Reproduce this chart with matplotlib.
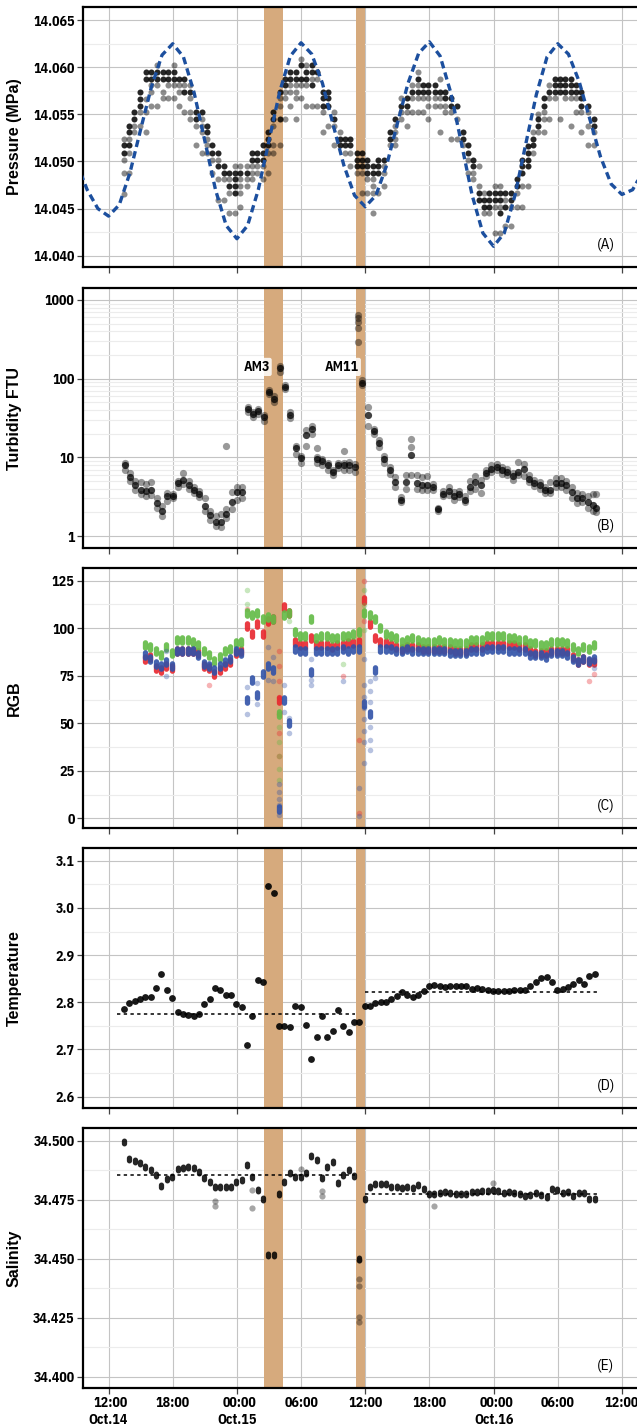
import numpy as np
import pandas as pd
import matplotlib
matplotlib.use("Agg")
import matplotlib.pyplot as plt
import matplotlib.dates as mdates
from matplotlib import font_manager
from matplotlib.path import Path
from matplotlib.ticker import FixedLocator, MultipleLocator, FuncFormatter, NullFormatter

# time axis: hours after 12:00 Oct.14
T0 = pd.Timestamp("2016-10-14 12:00")

# tide prediction (hourly)
tide_t = list(range(-3, 51))
tide_v = [14.0499, 14.0470, 14.0450,
          14.0442, 14.0454, 14.0488, 14.0534, 14.0579, 14.0613, 14.0625,
          14.0611, 14.0573, 14.0522, 14.0470, 14.0432, 14.0418,
          14.0432, 14.0470, 14.0522, 14.0574, 14.0612, 14.0626,
          14.0614, 14.0583, 14.0539, 14.0496, 14.0464, 14.0452,
          14.0464, 14.0496, 14.0540, 14.0583, 14.0615, 14.0627,
          14.0612, 14.0573, 14.0519, 14.0464, 14.0424, 14.0410,
          14.0424, 14.0464, 14.0518, 14.0571, 14.0611, 14.0625,
          14.0614, 14.0585, 14.0545, 14.0505, 14.0476, 14.0465,
          14.0470, 14.0490]

# measured pressure, per sampling time: dense (dark) and sparse (grey) values
pres_t = [1.4, 1.9, 2.4, 2.95, 3.5, 4.0, 4.5, 5.05, 5.55, 6.1, 6.6, 7.1, 7.6, 8.2, 8.7,
          9.2, 9.7, 10.2, 10.8, 11.3, 11.8, 12.3, 12.9, 13.4, 13.9, 14.4, 14.9, 15.4,
          16.0, 16.5, 17.0, 17.5, 17.95, 18.5, 19.0, 19.5, 20.05, 20.55, 21.1, 21.6,
          22.1, 22.6, 23.2, 23.7, 24.2, 24.7, 25.2, 25.8, 26.3, 26.8, 27.3, 27.9, 28.4,
          28.9, 29.4, 29.9, 30.5, 31.0, 31.5, 32.0, 32.6, 33.1, 33.6, 34.1, 34.6, 35.1,
          35.6, 36.1, 36.6, 37.1, 37.6, 38.2, 38.7, 39.2, 39.7, 40.2, 40.7, 41.2, 41.7,
          42.2, 42.7, 43.2, 43.7, 44.2, 44.8, 45.4]
pres_core = [
    [14.0517, 14.0509], [14.0538, 14.0531, 14.0517], [14.0553, 14.0545],
    [14.0574, 14.0566, 14.0559], [14.0595, 14.0588], [14.0595, 14.0588],
    [14.0595, 14.0588], [14.0595, 14.0588], [14.0595, 14.0588], [14.0595, 14.0588],
    [14.0588], [14.0588, 14.0574], [14.0574], [14.0553, 14.0545], [14.0553],
    [14.0538, 14.0531], [14.0517, 14.0509], [14.0509, 14.0495], [14.0495, 14.0488],
    [14.0488, 14.0474], [14.0488, 14.0481, 14.0474, 14.0467], [14.0488], [14.0488],
    [14.0509, 14.0502], [14.0509, 14.0502], [14.0517, 14.0509, 14.0502],
    [14.0531, 14.0524, 14.0517], [14.0553, 14.0545], [14.0574, 14.0545],
    [14.0588, 14.0581], [14.0595, 14.0588], [14.0595, 14.0588], [14.0602, 14.0588],
    [14.0595, 14.0588], [14.0602, 14.0595, 14.0581], [14.0595],
    [14.0574, 14.0567, 14.0559], [14.0574, 14.0567, 14.0559], [14.0545],
    [14.0524, 14.0517], [14.0524, 14.0517], [14.0524, 14.0517],
    [14.0509, 14.0502, 14.0495], [14.0509, 14.0502, 14.0495],
    [14.0502, 14.0495, 14.0488], [14.0495, 14.0488], [14.0502, 14.0495, 14.0488],
    [14.0502], [14.0531, 14.0524], [14.0545], [14.0559], [14.0567, 14.0559],
    [14.0574], [14.0588, 14.0574], [14.0581, 14.0574], [14.0581, 14.0574],
    [14.0581, 14.0574], [14.0574], [14.0574, 14.0567], [14.0567, 14.0559], [14.0559],
    [14.0531, 14.0524], [14.0517, 14.0509], [14.0502, 14.0495], [14.0467, 14.0459],
    [14.0459, 14.0452], [14.0467, 14.0459, 14.0452], [14.0467, 14.0459],
    [14.0467, 14.0459, 14.0445], [14.0467, 14.0452], [14.0467, 14.0459],
    [14.0481, 14.0474], [14.0502, 14.0495, 14.0488], [14.0516, 14.0509, 14.0502, 14.0495],
    [14.0524, 14.0517], [14.0545, 14.0538], [14.0567, 14.0559], [14.0574],
    [14.0588, 14.0581, 14.0574], [14.0588, 14.0581, 14.0574], [14.0588, 14.0581, 14.0574],
    [14.0588, 14.0581, 14.0574], [14.0581, 14.0574], [14.0574, 14.0567, 14.0559],
    [14.0559], [14.0545, 14.0538]]
pres_thin = [
    [14.0524, 14.0502, 14.0488, 14.0466], [14.0524, 14.0509, 14.0488], [14.0538, 14.0531],
    [14.0553, 14.0538], [14.0566, 14.0553, 14.0531], [14.0581, 14.0574, 14.0559],
    [14.0602, 14.0581, 14.0559], [14.0574, 14.0567], [14.0581, 14.0567],
    [14.0602, 14.0581, 14.0567], [14.0581, 14.0574, 14.0559], [14.0581, 14.0553],
    [14.0581, 14.0567, 14.0553, 14.0545], [14.0538, 14.0517],
    [14.0545, 14.0538, 14.0531, 14.0509], [14.0524, 14.0517, 14.0509],
    [14.0502, 14.0488], [14.0502, 14.0481, 14.0459], [14.0481, 14.0459],
    [14.0481, 14.0467, 14.0445], [14.0495, 14.0445],
    [14.0495, 14.0481, 14.0474, 14.0467, 14.0452], [14.0495, 14.0481, 14.0474],
    [14.0495, 14.0488, 14.0481], [14.0495, 14.0488], [14.0495, 14.0481],
    [14.0509, 14.0488], [14.0538, 14.0517, 14.0509], [14.0567, 14.0559, 14.0517],
    [14.0574, 14.0567, 14.0545], [14.0581, 14.0574, 14.0559],
    [14.0581, 14.0574, 14.0567, 14.0545], [14.0609, 14.0581, 14.0567],
    [14.0602, 14.0581, 14.0559], [14.0588, 14.0559], [14.0588, 14.0559],
    [14.0553, 14.0531], [14.0538], [14.0553, 14.0538, 14.0517], [14.0531], [14.0509],
    [14.0509, 14.0495], [14.0488], [14.0488, 14.0467], [14.0481, 14.0467],
    [14.0481, 14.0474, 14.0467, 14.0445], [14.0467], [14.0495, 14.0488, 14.0474],
    [14.0517], [14.0538, 14.0531, 14.0524, 14.0517], [14.0567, 14.0553, 14.0545],
    [14.0553, 14.0538], [14.0581, 14.0567, 14.0553], [14.0595, 14.0581, 14.0567, 14.0553],
    [14.0567, 14.0553], [14.0567, 14.0559, 14.0545], [14.0567, 14.0559],
    [14.0588, 14.0567, 14.0559, 14.0531], [14.0559, 14.0553], [14.0553, 14.0524],
    [14.0545, 14.0524], [14.0517], [14.0502, 14.0488], [14.0488, 14.0481],
    [14.0474, 14.0495], [14.0467, 14.0445], [14.0445], [14.0474, 14.0452, 14.0424],
    [14.0474, 14.0452, 14.0424], [14.0459, 14.0431], [14.0452, 14.0431],
    [14.0467, 14.0452], [14.0474, 14.0452], [14.0474], [14.0531, 14.0509],
    [14.0550, 14.0531], [14.0553, 14.0545, 14.0531], [14.0581, 14.0567, 14.0545],
    [14.0567], [14.0545], [14.0567], [14.0567, 14.0538], [14.0567, 14.0553],
    [14.0553, 14.0531], [14.0553, 14.0538, 14.0517], [14.0531, 14.0517]]

# turbidity (FTU): typical value per sample with its low / high scatter
turb_t = [1.5, 2.0, 2.5, 3.0, 3.5, 4.0, 4.5, 5.0, 5.5, 6.0, 6.5, 7.0, 7.5, 8.0, 8.5, 9.0,
          9.5, 10.0, 10.5, 11.0, 11.5, 12.0, 12.5, 13.0, 13.5, 14.0, 14.5, 15.0, 15.5,
          16.0, 16.5, 17.0, 17.5, 18.0, 18.5, 19.0, 19.5, 20.0, 20.5, 21.0, 21.5, 22.0,
          22.5, 23.0, 23.7, 24.3, 24.8, 25.3, 25.8, 26.3, 26.8, 27.3, 27.8, 28.3, 28.8,
          29.3, 29.8, 30.3, 30.8, 31.3, 31.8, 32.3, 32.8, 33.3, 33.8, 34.3, 34.8, 35.3,
          35.8, 36.3, 36.8, 37.3, 37.8, 38.3, 38.8, 39.3, 39.8, 40.3, 40.8, 41.3, 41.8,
          42.3, 42.8, 43.3, 43.8, 44.3, 44.8, 45.3, 45.6]
turb_mid = [7.9, 5.7, 4.4, 3.9, 3.7, 3.9, 2.6, 2.1, 3.2, 3.2, 4.7, 5.2, 4.4, 3.9, 3.4, 2.4,
            1.85, 1.5, 1.5, 1.9, 2.7, 3.6, 3.6, 41, 35.5, 39, 32.8, 68, 55, 135, 79, 35,
            13, 9.7, 19, 23, 9.5, 9.0, 8.0, 6.6, 8.0, 8.0, 8.0, 7.6, 87, 35, 21.6, 15, 9.5,
            6.9, 4.9, 2.9, 4.9, 10.7, 4.7, 4.4, 4.4, 4.2, 2.2, 3.4, 3.7, 3.2, 3.4, 2.9,
            4.2, 4.9, 4.4, 6.3, 7.2, 7.6, 6.9, 6.6, 5.8, 6.6, 7.2, 5.3, 4.7, 4.4, 3.8,
            3.8, 4.7, 4.7, 4.4, 3.6, 3.0, 3.0, 2.7, 2.5, 2.3]
turb_lo = [7.0, 5.0, 3.8, 3.4, 3.2, 3.3, 2.3, 1.8, 2.8, 3.0, 4.2, 4.6, 4.0, 3.5, 3.1, 2.1,
           1.6, 1.35, 1.3, 1.7, 2.2, 2.9, 3.0, 38, 33, 36, 29, 63, 50, 120, 74, 32,
           11, 8.5, 14, 20, 8.5, 8.0, 7.0, 6.0, 7.3, 7.0, 7.0, 6.6, 82, 25, 20, 13.5, 8.5,
           6.2, 4.2, 2.7, 4.0, 6.0, 4.0, 3.8, 3.8, 3.8, 2.1, 3.2, 3.3, 2.9, 3.1, 2.7,
           3.7, 4.0, 3.5, 5.8, 6.5, 7.0, 6.2, 6.0, 5.2, 6.0, 5.8, 4.8, 4.3, 4.0, 3.5,
           3.5, 4.2, 4.2, 3.8, 3.0, 2.6, 2.7, 2.3, 2.1, 2.0]
turb_hi = [8.5, 6.3, 5.0, 4.8, 4.6, 4.8, 3.0, 2.4, 3.5, 3.4, 5.0, 6.3, 5.0, 4.2, 3.7, 3.0,
           2.1, 1.8, 1.9, 2.2, 3.6, 4.2, 4.2, 43, 38, 41, 35, 72, 60, 145, 84, 38,
           14, 10.5, 22, 25, 10, 9.5, 8.5, 7.0, 8.5, 8.5, 8.8, 8.2, 95, 43, 23, 16.5, 10.5,
           7.5, 5.6, 3.1, 6.0, 17, 6.0, 5.6, 5.8, 4.6, 2.3, 3.7, 4.2, 3.6, 3.7, 3.2,
           5.0, 5.8, 5.2, 7.0, 8.0, 8.2, 7.5, 7.2, 6.3, 8.8, 8.3, 6.0, 5.2, 4.8, 4.2,
           4.8, 5.4, 5.5, 5.0, 4.2, 3.5, 3.4, 3.2, 3.4, 3.4]
turb_out_t = [11.0, 23.3, 23.3, 23.3, 23.3, 23.3, 28.3, 19.5, 22.0]
turb_out_v = [14, 643, 590, 530, 440, 294, 13.5, 13, 12]

# camera colour (RGB)
rgb_t = [3.4, 3.9, 4.4, 4.9, 5.4, 5.9, 6.4, 6.9, 7.4, 7.9, 8.4, 8.9, 9.4, 9.9, 10.4,
         10.9, 11.4, 11.9, 12.4, 12.9, 13.4, 13.9, 14.4, 14.9, 15.4, 15.9, 16.4, 16.9,
         17.4, 17.9, 18.4, 18.9, 19.4, 19.9, 20.4, 20.9, 21.4, 21.9, 22.4, 22.9, 23.4,
         23.9, 24.4, 24.9, 25.4, 25.9, 26.4, 26.9, 27.4, 27.9, 28.4, 28.9, 29.4, 29.9,
         30.4, 30.9, 31.4, 31.9, 32.4, 32.9, 33.4, 33.9, 34.4, 34.9, 35.4, 35.9, 36.4,
         36.9, 37.4, 37.9, 38.4, 38.9, 39.4, 39.9, 40.4, 40.9, 41.4, 41.9, 42.4, 42.9,
         43.4, 43.9, 44.4, 44.9, 45.4]
rgb_g = [91, 90, 88, 86, 90, 87, 94, 94, 94, 93, 91, 88, 86, 83, 85, 88, 89, 92, 93,
         108, 107, 108, 105, 106, 105, 55, 107, 108, 98, 96, 96, 105, 95, 96, 96, 95, 95,
         96, 96, 97, 98, 108, 107, 105, 100, 97, 96, 95, 93, 94, 95, 94, 93, 93, 93, 94,
         93, 93, 92, 92, 92, 94, 94, 94, 96, 96, 96, 96, 95, 95, 94, 94, 92, 92, 91, 91,
         93, 93, 93, 92, 90, 88, 90, 89, 91]
rgb_r = [84, 85, 79, 78, 80, 79, 88, 88, 88, 88, 87, 80, 79, 76, 78, 80, 82, 87, 88,
         101, 97, 102, 97, 104, 105, 62, 111, 108, 93, 91, 91, 95, 91, 91, 91, 90, 91,
         91, 92, 92, 93, 115, 102, 95, 93, 92, 91, 90, 89, 90, 90, 90, 89, 89, 89, 89,
         89, 89, 88, 88, 88, 90, 90, 90, 91, 91, 91, 91, 91, 91, 90, 90, 88, 87, 87, 87,
         88, 88, 88, 88, 85, 82, 84, 82, 82]
rgb_b = [86, 84, 81, 80, 82, 80, 88, 88, 88, 88, 86, 81, 80, 78, 80, 82, 84, 88, 87,
         62, 73, 65, 76, 80, 78, 5, 62, 50, 89, 88, 88, 77, 88, 88, 88, 88, 88, 89, 88,
         89, 89, 60, 55, 78, 89, 89, 89, 88, 88, 89, 88, 88, 88, 88, 88, 88, 88, 87, 87,
         87, 87, 88, 88, 88, 89, 89, 89, 89, 88, 88, 88, 88, 86, 86, 86, 85, 87, 87, 87,
         86, 84, 82, 84, 83, 84]
# scattered single samples around the events
rgb_gx_t = [12.9, 12.9, 15.9, 15.9, 15.9, 15.9, 15.9, 21.9, 23.9, 23.9, 23.9, 16.9]
rgb_gx_v = [120, 113, 48, 40, 33, 26, 20, 81, 120, 99, 112, 104]
rgb_rx_t = [9.4, 15.9, 15.9, 15.9, 15.9, 15.9, 15.9, 15.9, 21.9, 23.4, 23.4, 23.9,
            23.9, 44.9, 45.4, 12.9]
rgb_rx_v = [70, 88, 80, 72, 64, 55, 45, 33, 75, 41, 3, 125, 104, 72, 76, 110]
rgb_bx_t = [5.4, 5.4, 12.9, 12.9, 13.9, 13.9, 14.9, 14.9, 15.4, 15.4, 15.9, 15.9, 15.9,
            15.9, 15.9, 16.4, 16.4, 16.9, 16.9, 18.9, 18.9, 18.9, 21.9, 23.4, 23.4,
            23.9, 23.9, 23.9, 23.9, 23.9, 23.9, 23.9, 23.9, 24.4, 24.4, 24.4, 24.4,
            24.4, 24.4, 24.9, 45.4]
rgb_bx_v = [75, 88, 55, 69, 60, 71, 73, 90, 72, 85, 18, 14, 10, 7, 2, 70, 56, 45, 53,
            70, 73, 84, 72, 16, 1, 84, 70, 64, 58, 52, 46, 40, 29, 72, 67, 61, 48, 41,
            36, 74, 79]

# temperature
temp_t = [1.45, 1.95, 2.45, 2.95, 3.45, 3.95, 4.45, 4.95, 5.45, 5.95, 6.45, 6.95, 7.45,
          7.95, 8.45, 8.95, 9.45, 9.95, 10.45, 10.95, 11.45, 11.95, 12.45, 12.95, 13.45,
          13.95, 14.45, 14.95, 15.45, 15.95, 16.45, 16.95, 17.45, 17.95, 18.45, 18.95,
          19.45, 19.95, 20.45, 20.95, 21.45, 21.95, 22.45, 22.95, 23.45, 23.95, 24.45,
          24.95, 25.45, 25.95, 26.45, 26.95, 27.45, 27.95, 28.45, 28.95, 29.45, 29.95,
          30.45, 30.95, 31.45, 31.95, 32.45, 32.95, 33.45, 33.95, 34.45, 34.95, 35.45,
          35.95, 36.45, 36.95, 37.45, 37.95, 38.45, 38.95, 39.45, 39.95, 40.45, 40.95,
          41.45, 41.95, 42.45, 42.95, 43.45, 43.95, 44.45, 44.95, 45.45]
temp_v = [2.786, 2.798, 2.803, 2.808, 2.812, 2.812, 2.830, 2.861, 2.827, 2.810, 2.779,
          2.775, 2.773, 2.770, 2.775, 2.796, 2.806, 2.830, 2.826, 2.816, 2.816, 2.796,
          2.789, 2.709, 2.771, 2.847, 2.842, 3.046, 3.032, 2.750, 2.749, 2.747, 2.793,
          2.789, 2.752, 2.679, 2.726, 2.772, 2.727, 2.739, 2.784, 2.750, 2.738, 2.759,
          2.759, 2.792, 2.793, 2.798, 2.801, 2.801, 2.808, 2.813, 2.822, 2.815, 2.812,
          2.815, 2.824, 2.835, 2.836, 2.835, 2.833, 2.834, 2.834, 2.835, 2.835, 2.828,
          2.830, 2.828, 2.826, 2.824, 2.824, 2.824, 2.824, 2.826, 2.826, 2.826, 2.835,
          2.844, 2.851, 2.854, 2.844, 2.827, 2.829, 2.832, 2.839, 2.847, 2.839, 2.856,
          2.860]
temp_mean_t = [[0.8, 23.0], [24.0, 45.9]]
temp_mean_v = [2.7755, 2.8225]

# salinity
sal_t = temp_t
sal_v = [34.4996, 34.4922, 34.4914, 34.4904, 34.4890, 34.4876, 34.4855, 34.4808,
         34.4836, 34.4847, 34.4879, 34.4883, 34.4890, 34.4883, 34.4869, 34.4840,
         34.4826, 34.4805, 34.4805, 34.4805, 34.4805, 34.4826, 34.4833, 34.4897,
         34.4847, 34.4791, 34.4751, 34.4516, 34.4516, 34.4774, 34.4826, 34.4864,
         34.4847, 34.4847, 34.4864, 34.4935, 34.4918, 34.4840, 34.4887, 34.4911,
         34.4822, 34.4855, 34.4876, 34.4850, 34.4500, 34.4753, 34.4805, 34.4816,
         34.4816, 34.4815, 34.4805, 34.4805, 34.4798, 34.4805, 34.4798, 34.4812,
         34.4794, 34.4774, 34.4774, 34.4777, 34.4784, 34.4777, 34.4774, 34.4774,
         34.4774, 34.4784, 34.4784, 34.4788, 34.4788, 34.4791, 34.4788, 34.4777,
         34.4784, 34.4780, 34.4774, 34.4766, 34.4770, 34.4780, 34.4770, 34.4760,
         34.4794, 34.4791, 34.4780, 34.4784, 34.4766, 34.4780, 34.4780, 34.4751,
         34.4751]
sal_x_t = [9.95, 9.95, 13.45, 13.45, 23.45, 23.45, 23.45, 23.45, 23.45, 19.95, 19.95,
           17.95, 30.45, 35.95]
sal_x_v = [34.4745, 34.4722, 34.4790, 34.4715, 34.4494, 34.4412, 34.4384, 34.4254,
           34.4233, 34.4785, 34.4765, 34.4880, 34.4722, 34.4820]
sal_mean_t = [[0.8, 23.0], [24.0, 45.9]]
sal_mean_v = [34.4855, 34.4774]

# sampling events
events = [("AM3", 14.58, 16.31, 13.83), ("AM11", 23.14, 24.0, 21.8)]


def hrs(h):
    return mdates.date2num((T0 + pd.to_timedelta(np.asarray(h, dtype=float), unit="h")).values)


def flat(ts, groups):
    xs, ys = [], []
    for t, g in zip(ts, groups):
        xs += [t] * len(g)
        ys += list(g)
    return hrs(xs), ys


def capsule(ratio):
    a = np.linspace(0, np.pi, 12)
    c = ratio / 2 - 0.5
    top = np.column_stack([0.5 * np.cos(a), c + 0.5 * np.sin(a)])
    bot = np.column_stack([-0.5 * np.cos(a), -c - 0.5 * np.sin(a)])
    v = np.vstack([top, bot, top[:1]])
    return Path(v, closed=True)


def is_bold(w):
    if isinstance(w, str):
        return w in ("bold", "heavy", "extra bold", "black", "semibold", "demibold")
    return w >= 600


# a condensed family with a bold face, close to the narrow bold tick labels
bold_fams = {f.name for f in font_manager.fontManager.ttflist if is_bold(f.weight)}
TICK_FAM, TICK_SIZE = ["Liberation Sans", "DejaVu Sans"], 9.3
for cand, size in [("Archivo Narrow", 10.5), ("IBM Plex Sans Condensed", 10.0),
                   ("Asap Condensed", 10.0), ("Fira Sans Condensed", 10.0),
                   ("Barlow Semi Condensed", 10.0), ("Encode Sans Condensed", 10.0)]:
    if cand in bold_fams:
        TICK_FAM, TICK_SIZE = [cand, "DejaVu Sans"], size
        break
plt.rcParams["font.family"] = ["Liberation Sans", "DejaVu Sans"]

fig = plt.figure(figsize=(6.37, 14.27), dpi=100)
H = 1427.0
W = 637.0
tops = [7, 288, 568, 848, 1128]
axes = []
for tp in tops:
    ax = fig.add_axes([83 / W, 1 - (tp + 260) / H, 1.004 - 83 / W, 260 / H])
    axes.append(ax)

xlim = (hrs([-2.39])[0], hrs([49.65])[0])
band_c = "#d6aa7d"

for i, ax in enumerate(axes):
    ax.set_xlim(*xlim)
    ax.set_axisbelow(True)
    ax.xaxis.set_major_locator(mdates.HourLocator(byhour=[0, 6, 12, 18]))
    ax.xaxis.set_minor_locator(mdates.HourLocator(byhour=[0, 12]))
    ax.xaxis.remove_overlapping_locs = False
    ax.grid(True, which="major", axis="x", color="#c4c4c4", lw=0.8)
    ax.grid(True, which="major", axis="y", color="#c4c4c4", lw=0.8)
    ax.grid(True, which="minor", axis="y", color="#ececec", lw=0.8)
    ax.tick_params(axis="x", which="major", length=0, pad=6)
    ax.tick_params(axis="x", which="minor", length=4, width=0.9, color="#444444")
    ax.tick_params(axis="y", which="major", length=4, width=0.9, color="#444444", pad=2)
    ax.tick_params(axis="y", which="minor", length=0)
    for sp in ax.spines.values():
        sp.set_linewidth(1.6)
    for name, t1, t2, _ in events:
        ax.axvspan(hrs([t1])[0], hrs([t2])[0], color=band_c, lw=0, zorder=1)
    if i < 4:
        ax.xaxis.set_major_formatter(NullFormatter())


def xfmt(x, pos):
    d = mdates.num2date(x)
    s = d.strftime("%H:%M")
    if pos == 0 or d.hour == 0:
        s += "\n" + d.strftime("Oct.%d")
    return s


axes[4].xaxis.set_major_formatter(FuncFormatter(xfmt))

ylab_kw = dict(fontsize=11.5, fontweight="bold")

# (A) pressure
ax = axes[0]
ax.plot(hrs(tide_t), tide_v, color="#1c4f9e", lw=2.4, dashes=(2.2, 1.3), zorder=4)
x, y = flat(pres_t, pres_thin)
ax.scatter(x, y, s=19, color="black", alpha=0.45, lw=0, zorder=3)
x, y = flat(pres_t, pres_core)
ax.scatter(x, y, s=19, color="black", alpha=0.85, lw=0, zorder=3)
ax.set_ylim(14.0388, 14.0664)
ax.yaxis.set_major_locator(MultipleLocator(0.005))
ax.yaxis.set_minor_locator(MultipleLocator(0.0025))
ax.yaxis.set_major_formatter(FuncFormatter(lambda v, p: "%.3f" % v))
ax.set_ylabel("Pressure (MPa)", **ylab_kw)

# (B) turbidity
ax = axes[1]
ax.set_yscale("log")
ax.set_ylim(0.704, 1420)
for arr, a in [(turb_lo, 0.4), (turb_hi, 0.4), (turb_mid, 0.75)]:
    ax.scatter(hrs(turb_t), arr, s=27, color="black", alpha=a, lw=0, zorder=3)
ax.scatter(hrs(turb_out_t), turb_out_v, s=27, color="black", alpha=0.4, lw=0, zorder=3)
ax.yaxis.set_major_locator(FixedLocator([1, 10, 100, 1000]))
ax.yaxis.set_major_formatter(FuncFormatter(lambda v, p: "%d" % round(v)))
ax.yaxis.set_minor_locator(FixedLocator([m * 10 ** e for e in range(0, 4) for m in range(2, 10)]))
ax.yaxis.set_minor_formatter(NullFormatter())
for name, t1, t2, tx in events:
    ax.text(hrs([tx])[0], 141, name, ha="center", va="center", fontsize=TICK_SIZE,
            fontweight="bold", family=TICK_FAM, zorder=6,
            bbox=dict(boxstyle="round,pad=0.15", fc="white", ec="none", alpha=0.85))
ax.set_ylabel("Turbidity FTU", **ylab_kw)

# (C) RGB
ax = axes[2]
cap = capsule(2.0)
for vals, xt, xv, c in [(rgb_r, rgb_rx_t, rgb_rx_v, "#e8262d"),
                        (rgb_g, rgb_gx_t, rgb_gx_v, "#62bb45"),
                        (rgb_b, rgb_bx_t, rgb_bx_v, "#3152a8")]:
    ax.scatter(hrs(xt), xv, s=16, color=c, alpha=0.35, lw=0, zorder=3)
    ax.scatter(hrs(rgb_t), vals, s=58, marker=cap, color=c, alpha=0.9, lw=0, zorder=3)
ax.set_ylim(-5.1, 131.7)
ax.yaxis.set_major_locator(MultipleLocator(25))
ax.yaxis.set_minor_locator(MultipleLocator(12.5))
ax.set_ylabel("RGB", **ylab_kw)

# (D) temperature
ax = axes[3]
ax.scatter(hrs(temp_t), temp_v, s=24, color="black", alpha=0.9, lw=0, zorder=3)
for (a, b), m in zip(temp_mean_t, temp_mean_v):
    ax.plot(hrs([a, b]), [m, m], color="black", lw=1.1, ls=(0, (2.2, 2.2)), zorder=4)
ax.set_ylim(2.576, 3.127)
ax.yaxis.set_major_locator(MultipleLocator(0.1))
ax.yaxis.set_minor_locator(MultipleLocator(0.05))
ax.yaxis.set_major_formatter(FuncFormatter(lambda v, p: "%.1f" % v))
ax.set_ylabel("Temperature", **ylab_kw)

# (E) salinity
ax = axes[4]
scap = capsule(1.5)
ax.scatter(hrs(sal_x_t), sal_x_v, s=20, color="black", alpha=0.35, lw=0, zorder=3)
ax.scatter(hrs(sal_t), sal_v, s=32, marker=scap, color="black", alpha=0.85, lw=0, zorder=3)
for (a, b), m in zip(sal_mean_t, sal_mean_v):
    ax.plot(hrs([a, b]), [m, m], color="black", lw=1.1, ls=(0, (2.2, 2.2)), zorder=4)
ax.set_ylim(34.39521, 34.50538)
ax.yaxis.set_major_locator(MultipleLocator(0.025))
ax.yaxis.set_minor_locator(MultipleLocator(0.0125))
ax.yaxis.set_major_formatter(FuncFormatter(lambda v, p: "%.3f" % v))
ax.set_ylabel("Salinity", **ylab_kw)

for ax, lab in zip(axes, ["(A)", "(B)", "(C)", "(D)", "(E)"]):
    ax.text(0.939, 0.088, lab, transform=ax.transAxes, ha="center", va="center",
            fontsize=TICK_SIZE + 1, family=TICK_FAM, zorder=6)
    for t in ax.get_yticklabels() + ax.get_xticklabels():
        t.set_family(TICK_FAM)
        t.set_fontweight("bold")
        t.set_fontsize(TICK_SIZE)
    for t in ax.get_xticklabels():
        t.set_multialignment("right")
    ax.yaxis.set_label_coords(-0.11, 0.5)

fig.savefig("out.png", dpi=100)
